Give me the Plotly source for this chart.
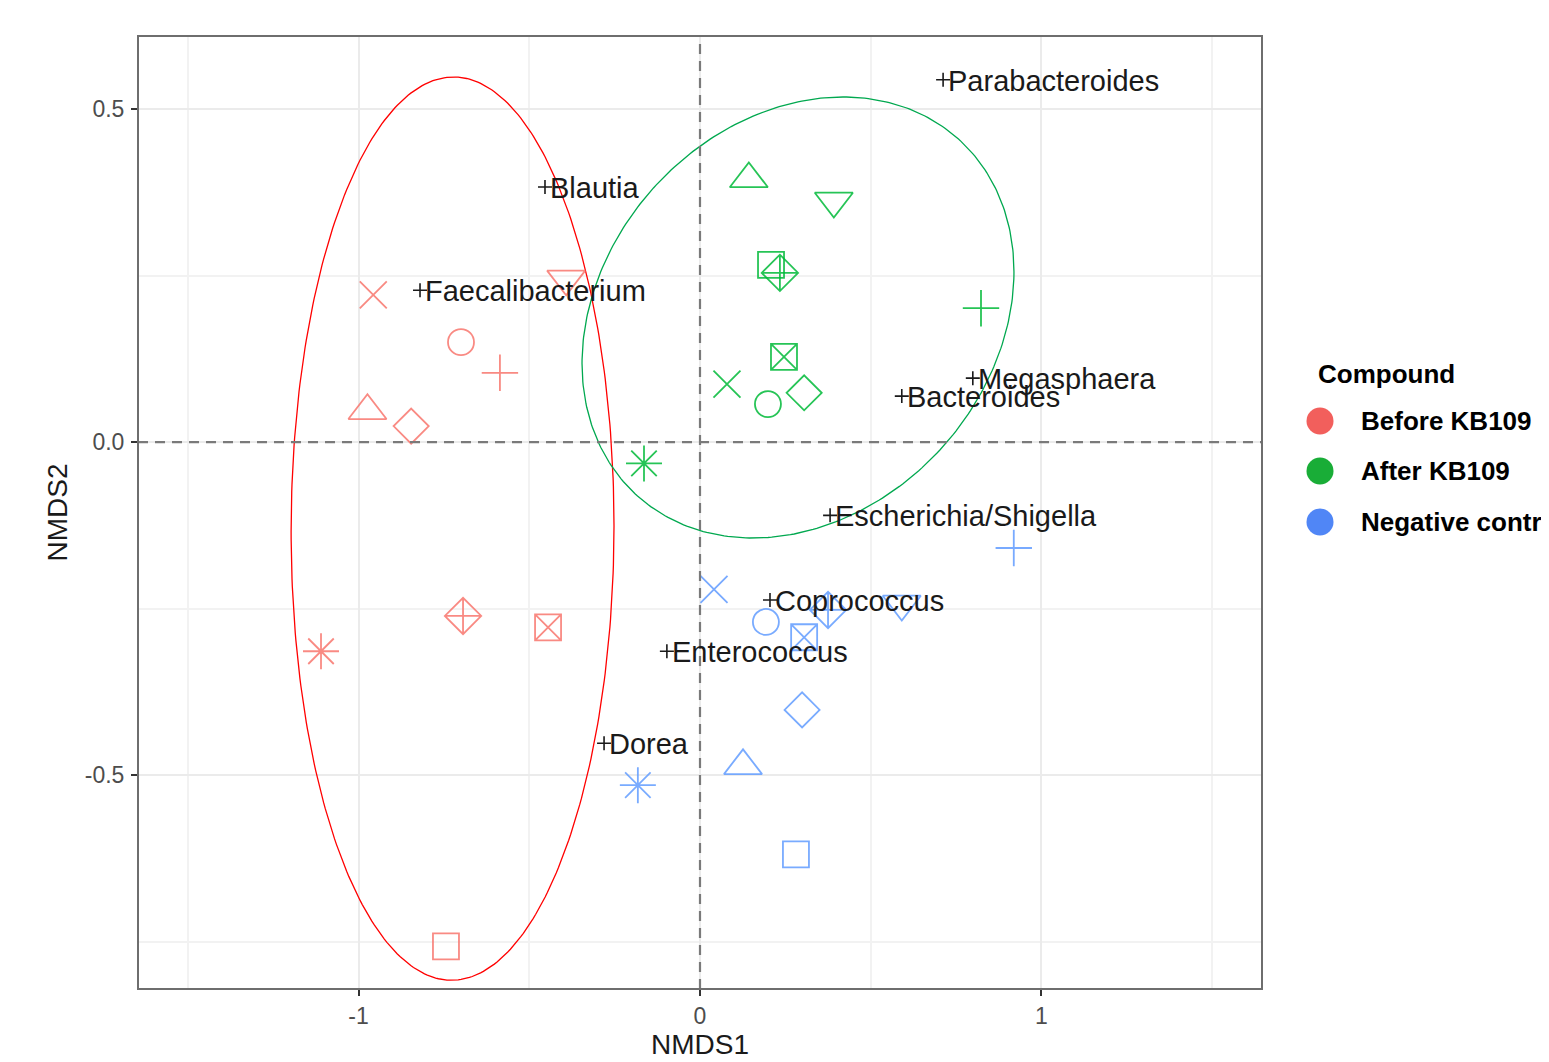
import numpy as np
import plotly.graph_objects as go

# ---------------- data ----------------
groups = ["Before KB109", "After KB109", "Negative control"]
# sample symbols (same order for each group)
sample_symbols = ["square-open", "circle-open", "triangle-up-open", "cross-thin", "x-thin",
                  "diamond-open", "triangle-down-open", "square-x-open", "asterisk-open",
                  "diamond-cross-open"]

before_x = [-0.744, -0.700, -0.974, -0.586, -0.957, -0.846, -0.392, -0.445, -1.110, -0.694]
before_y = [-0.757, 0.150, 0.047, 0.104, 0.221, 0.024, 0.245, -0.278, -0.314, -0.261]

after_x = [0.208, 0.199, 0.143, 0.823, 0.079, 0.305, 0.392, 0.246, -0.164, 0.234]
after_y = [0.266, 0.057, 0.395, 0.201, 0.087, 0.074, 0.362, 0.128, -0.032, 0.254]

neg_x = [0.281, 0.193, 0.126, 0.919, 0.041, 0.299, 0.591, 0.305, -0.182, 0.375]
neg_y = [-0.619, -0.270, -0.486, -0.159, -0.221, -0.402, -0.243, -0.293, -0.515, -0.252]

species = ["Parabacteroides", "Blautia", "Faecalibacterium", "Megasphaera", "Bacteroides",
           "Escherichia/Shigella", "Coprococcus", "Enterococcus", "Dorea"]
species_x = [0.712, -0.454, -0.820, 0.799, 0.591, 0.381, 0.205, -0.097, -0.281]
species_y = [0.544, 0.383, 0.228, 0.096, 0.069, -0.110, -0.237, -0.314, -0.452]

# confidence ellipses: centre and (var x, var y, cov xy) in NMDS units
ell_before = dict(cx=-0.7247, cy=-0.1299, sxx=0.2236, syy=0.4596, sxy=0.002)
ell_after = dict(cx=0.287, cy=0.187, sxx=0.4001, syy=0.1096, sxy=0.0436)

x_ticks = [-1, 0, 1]
y_ticks = [-0.5, 0, 0.5]
y_ticktext = ["-0.5", "0.0", "0.5"]

# ---------------- styles ----------------
FONT = "Liberation Sans, Arial, Helvetica, sans-serif"
point_colors = ["#F8766D", "#00BA38", "#619CFF"]
legend_colors = ["#F25F5C", "#19AD37", "#5086F6"]
ellipse_colors = {"before": "#FF0000", "after": "#00A84F"}
symbol_size = {"square-open": 26, "circle-open": 26, "triangle-up-open": 33, "cross-thin": 26,
               "x-thin": 27, "diamond-open": 27, "triangle-down-open": 33, "square-x-open": 26,
               "asterisk-open": 30, "diamond-cross-open": 28}

# page body has an 8px margin; compensate so the plot lands where the reference has it
OFF = 8
W, H = 1549 - OFF, 1062 - OFF
PL, PR, PT, PB = 138, 1262, 36, 989          # plot area in window pixels
ML, MT = PL - OFF, PT - OFF
MR, MB = OFF + W - PR, OFF + H - PB
PW, PH = PR - PL, PB - PT

fig = go.Figure()


def ellipse_xy(e, n=361):
    m = np.array([[e["sxx"], e["sxy"]], [e["sxy"], e["syy"]]])
    L = np.linalg.cholesky(m)
    t = np.linspace(0, 2 * np.pi, n)
    pts = L @ np.vstack([np.cos(t), np.sin(t)])
    return e["cx"] + pts[0], e["cy"] + pts[1]


for key, e in (("before", ell_before), ("after", ell_after)):
    ex, ey = ellipse_xy(e)
    fig.add_trace(go.Scatter(x=ex, y=ey, mode="lines",
                             line=dict(color=ellipse_colors[key], width=1.3),
                             showlegend=False, hoverinfo="skip"))

for g, xs, ys, col in zip(groups, [before_x, after_x, neg_x], [before_y, after_y, neg_y], point_colors):
    fig.add_trace(go.Scatter(
        x=xs, y=ys, mode="markers", name=g, showlegend=False,
        marker=dict(symbol=sample_symbols, size=[symbol_size[s] for s in sample_symbols],
                    color=col, opacity=0.85, line=dict(color=col, width=1.8)),
    ))

fig.add_trace(go.Scatter(
    x=species_x, y=species_y, mode="markers", showlegend=False, cliponaxis=False,
    marker=dict(symbol="cross-thin", size=10, color="#1a1a1a", line=dict(color="#1a1a1a", width=1.6)),
))

annotations = []
for name, sx, sy in zip(species, species_x, species_y):
    annotations.append(dict(text=name, x=sx, y=sy, xref="x", yref="y", xanchor="left", yanchor="middle",
                            xshift=3, yshift=-1, showarrow=False,
                            font=dict(family=FONT, size=29, color="#1a1a1a")))

# reference dashed lines at 0
shapes = [
    dict(type="line", xref="x", yref="paper", x0=0, x1=0, y0=0, y1=1, layer="above",
         line=dict(color="#7A7A7A", width=2.2, dash="10px,7px")),
    dict(type="line", xref="paper", yref="y", x0=0, x1=1, y0=0, y1=0, layer="above",
         line=dict(color="#7A7A7A", width=2.2, dash="10px,7px")),
    dict(type="rect", xref="paper", yref="paper", x0=0, x1=1, y0=0, y1=1, layer="above",
         line=dict(color="#6E6E6E", width=2)),
]

# manual legend
annotations.append(dict(text="Compound", xref="paper", yref="paper",
                        x=(1316 - PL) / PW, y=(PB - 374) / PH, xanchor="left", yanchor="middle",
                        showarrow=False, font=dict(family=FONT, size=26, color="#000000", weight="bold")))
leg_y = [421, 471, 522]
rpx = 13.5
for g, col, py in zip(groups, legend_colors, leg_y):
    cxp = (1320 - PL) / PW
    cyp = (PB - py) / PH
    shapes.append(dict(type="circle", xref="paper", yref="paper",
                       x0=cxp - rpx / PW, x1=cxp + rpx / PW, y0=cyp - rpx / PH, y1=cyp + rpx / PH,
                       fillcolor=col, line=dict(width=0)))
    annotations.append(dict(text=g, xref="paper", yref="paper", x=(1359 - PL) / PW, y=cyp,
                            xanchor="left", yanchor="middle", showarrow=False,
                            font=dict(family=FONT, size=26, color="#000000", weight="bold")))

axis_common = dict(
    showgrid=True, gridcolor="#EBEBEB", gridwidth=2, zeroline=False, showline=False,
    ticks="outside", ticklen=6, tickwidth=1.5, tickcolor="#333333",
    tickfont=dict(family=FONT, size=23, color="#4D4D4D"),
)

fig.update_layout(
    width=W, height=H,
    margin=dict(l=ML, r=MR, t=MT, b=MB, autoexpand=False),
    paper_bgcolor="white", plot_bgcolor="white",
    showlegend=False,
    shapes=shapes, annotations=annotations,
    xaxis=dict(range=[-1.646, 1.646], tickvals=x_ticks, ticktext=[str(v) for v in x_ticks],
               minor=dict(dtick=0.5, tick0=0, showgrid=True, gridcolor="#F2F2F2", gridwidth=1.5, ticks=""),
               title=dict(text="NMDS1", standoff=5, font=dict(family=FONT, size=28, color="#1a1a1a")),
               **axis_common),
    yaxis=dict(range=[-0.821, 0.6096], tickvals=y_ticks, ticktext=y_ticktext, ticklabelstandoff=2,
               minor=dict(dtick=0.25, tick0=0, showgrid=True, gridcolor="#F2F2F2", gridwidth=1.5, ticks=""),
               title=dict(text="NMDS2", standoff=8, font=dict(family=FONT, size=28, color="#1a1a1a")),
               **axis_common),
)

fig.write_html("out.html")
